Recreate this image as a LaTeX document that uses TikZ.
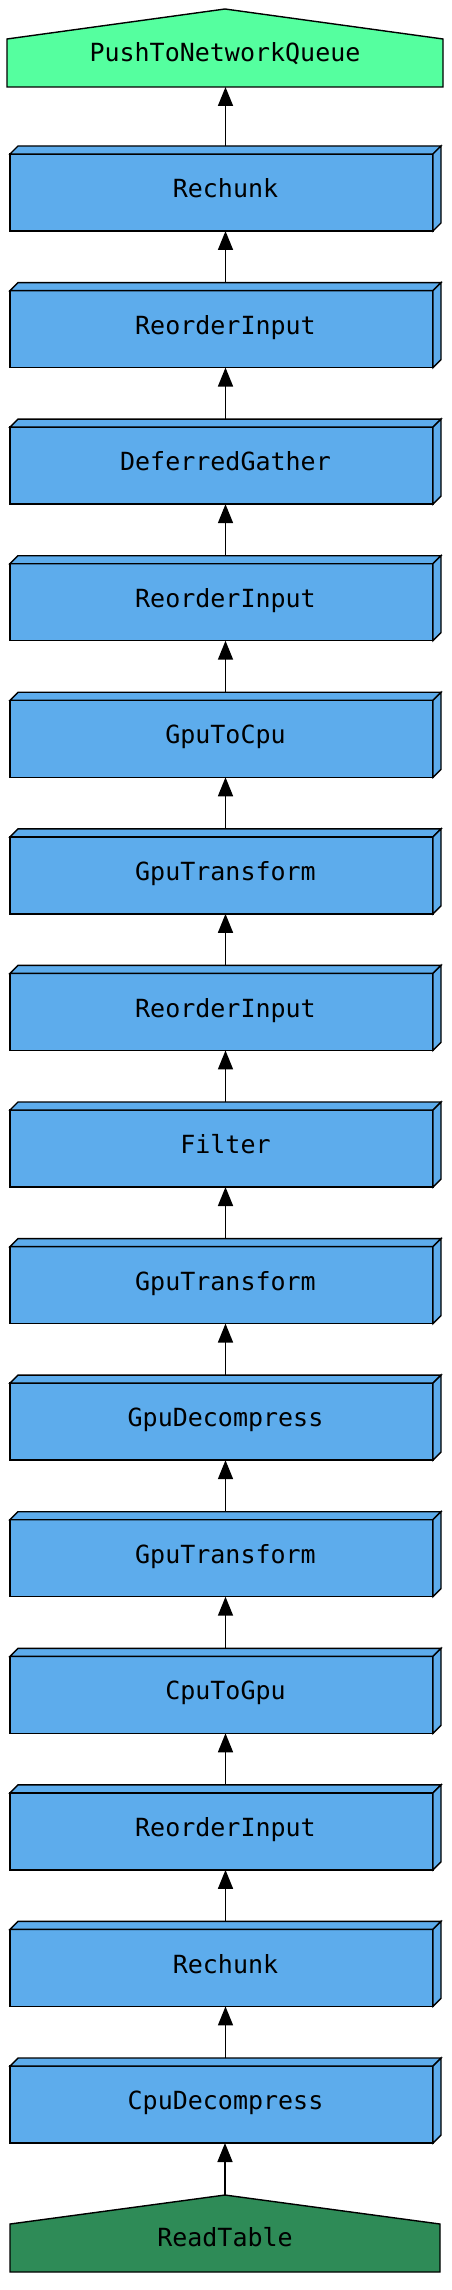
\documentclass[tikz,border=0pt]{standalone}
\usepackage{fontspec}
\newfontfamily\monofont{DejaVu Sans Mono}
\usetikzlibrary{arrows.meta,backgrounds,calc}
\definecolor{boxblue}{RGB}{93,172,236}
\definecolor{topgreen}{RGB}{85,255,159}
\definecolor{seagreen}{RGB}{46,139,87}
\begin{document}
\begin{tikzpicture}[x=1pt,y=-1pt,
  lbl/.style={font=\monofont\fontsize{25}{30}\selectfont, inner sep=0pt, outer sep=0pt, text=black, text height=18.2pt, text depth=0pt},
  boxnode/.style={lbl, minimum width=431pt, minimum height=85pt},
  housenode/.style={lbl, text height=26.2pt},
  face/.style={draw=black, line width=1.4pt, line join=miter},
  edge/.style={draw=black, line width=1.6pt, -{Triangle[length=19pt,width=15pt]}}]
\useasboundingbox (0,0) rectangle (451,2290);
\foreach \i/\t in {0/Rechunk,1/ReorderInput,2/DeferredGather,3/ReorderInput,4/GpuToCpu,5/GpuTransform,6/ReorderInput,7/Filter,8/GpuTransform,9/GpuDecompress,10/GpuTransform,11/CpuToGpu,12/ReorderInput,13/Rechunk,14/CpuDecompress}
  \node[boxnode] (b\i) at (225.5,{188.5+136.571*\i}) {\t};
\node[housenode, minimum width=436pt, minimum height=78pt] (top) at (225,48) {PushToNetworkQueue};
\node[housenode, minimum width=430pt, minimum height=77pt] (rt) at (225,2233.5) {ReadTable};
\begin{scope}[on background layer]
  \foreach \i in {0,...,14}{
    \draw[face, fill=boxblue] (b\i.south west) rectangle ($(b\i.north east)+(-8,8)$);
    \draw[face, fill=boxblue] ($(b\i.north west)+(0,8)$) -- ++(8,-8) -- (b\i.north east) -- ++(-8,8) -- cycle;
    \draw[face, fill=boxblue] (b\i.north east) -- ++(0,77) -- ++(-8,8) -- ++(0,-77) -- cycle;
  }
  \draw[face, fill=topgreen] (top.south west) -- (top.south east) -- ($(top.north east)+(0,30)$) -- (top.north) -- ($(top.north west)+(0,30)$) -- cycle;
  \draw[face, fill=seagreen] (rt.south west) -- (rt.south east) -- ($(rt.north east)+(0,29)$) -- (rt.north) -- ($(rt.north west)+(0,29)$) -- cycle;
\end{scope}
\foreach \i [evaluate=\i as \j using int(\i+1)] in {0,...,13}
  \draw[edge] (b\j.north) -- (b\i.south);
\draw[edge] (b0.north) -- (b0.north |- top.south);
\draw[edge] (rt.north) -- (rt.north |- b14.south);
\end{tikzpicture}
\end{document}
